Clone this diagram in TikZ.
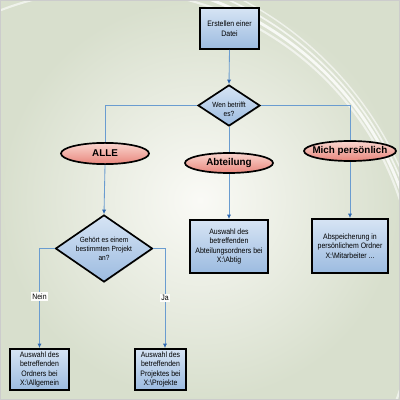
\documentclass[tikz,border=0pt]{standalone}
\usepackage{fontspec}
\setmainfont{Liberation Sans}
\newfontfamily\narrowsans[FakeStretch=0.88]{Liberation Sans}
\usetikzlibrary{shapes.geometric,arrows.meta,shadows,calc}
\definecolor{bgout}{HTML}{D8DFCD}
\definecolor{bgin}{HTML}{FAFAF6}
\definecolor{boxtop}{HTML}{D6E4F4}
\definecolor{boxbot}{HTML}{9CBBE0}
\definecolor{elltop}{HTML}{FAD6CF}
\definecolor{ellbot}{HTML}{E8867C}
\definecolor{linec}{HTML}{6A9CD0}
\definecolor{tipc}{HTML}{2F68B0}
\tikzset{
  procbox/.style={rectangle, draw=black, line width=1.3pt, top color=boxtop, bottom color=boxbot,
    drop shadow={shadow xshift=0.6pt, shadow yshift=-0.6pt, opacity=0.35},
    inner sep=0pt, align=center, font=\narrowsans\fontsize{5.6}{6.7}\selectfont},
  decide/.style={diamond, draw=black, line width=1.2pt, top color=boxtop, bottom color=boxbot,
    inner sep=0pt, drop shadow={shadow xshift=0.6pt, shadow yshift=-0.6pt, opacity=0.35}},
  choice/.style={ellipse, draw=black, line width=1.2pt, top color=elltop, bottom color=ellbot,
    inner sep=0pt},
  dtext/.style={align=center, font=\narrowsans\fontsize{5.3}{6.4}\selectfont},
  etext/.style={font=\bfseries\fontsize{7}{8}\selectfont},
  link/.style={draw=linec, line width=0.6pt},
  conn/.style={link, -{Latex[length=3.2pt,width=3pt,color=tipc]}},
  lbl/.style={fill=white!60!bgin, inner sep=1pt, font=\narrowsans\fontsize{5.6}{6.6}\selectfont},
}
\begin{document}
\begin{tikzpicture}[x=0.025cm,y=-0.025cm]
\useasboundingbox (0,0) rectangle (400,400);
% background
\shade[inner color=bgin, outer color=bgout] (0,0) rectangle (400,400);
\begin{scope}
\clip (0,0) rectangle (400,400);
\draw[white, line width=2pt, opacity=0.8] (100,300) circle (320);
\draw[white, line width=1.2pt, opacity=0.7] (90,305) circle (335);
\draw[white, line width=1.5pt, opacity=0.6] (110,295) circle (305);
\draw[white, line width=1pt, opacity=0.6] (80,310) circle (350);
\end{scope}
\draw[gray!40, line width=0.4pt] (0.5,0.5) rectangle (399.5,399.5);

% nodes
\node[procbox, minimum width=1.475cm, minimum height=1.025cm] (start) at (229.5,28.5) {Erstellen einer\\Datei};
\node[decide, minimum width=1.55cm, minimum height=1.025cm,
  label={[dtext, yshift=-2.8pt]center:Wen betrifft\\es?}] (d1) at (229,105.5) {};
\node[choice, minimum width=2.2cm, minimum height=0.53cm, label={[etext]center:ALLE}] (alle) at (105,153.5) {};
\node[choice, minimum width=2.2cm, minimum height=0.5cm, label={[etext]center:Abteilung}] (abt) at (229,163) {};
\node[choice, minimum width=2.3cm, minimum height=0.5cm, label={[etext]center:Mich persönlich}] (mich) at (350,151) {};
\node[decide, minimum width=2.425cm, minimum height=1.675cm,
  label={[dtext]center:Gehört es einem\\bestimmten Projekt\\an?}] (d2) at (104,248.5) {};
\node[procbox, minimum width=1.95cm, minimum height=1.325cm] (abtbox) at (229,246.5) {Auswahl des\\betreffenden\\Abteilungsordners bei\\X:\textbackslash Abtig};
\node[procbox, minimum width=1.9cm, minimum height=1.35cm] (michbox) at (350,246) {Abspeicherung in\\persönlichem Ordner\\X:\textbackslash Mitarbeiter ...};
\node[procbox, minimum width=1.475cm, minimum height=1.025cm] (allg) at (39.5,369.5) {Auswahl des\\betreffenden\\Ordners bei\\X:\textbackslash Allgemein};
\node[procbox, minimum width=1.275cm, minimum height=1.025cm] (proj) at (160.5,369.5) {Auswahl des\\betreffenden\\Projektes bei\\X:\textbackslash Projekte};
\coordinate (jx) at (165,0);

% connectors
\draw[conn] (start.south) -- (d1.north);
\draw[link] (d1.west) -| (alle.north);
\draw[link] (d1.south) -- (abt.north);
\draw[link] (d1.east) -| (mich.north);
\draw[conn] (alle.south) -- (d2.north);
\draw[conn] (abt.south) -- (abtbox.north);
\draw[conn] (mich.south) -- (michbox.north);
\draw[conn] (d2.west) -| node[lbl, pos=0.74] {Nein} (allg.north);
\draw[conn] (d2.east) -| node[lbl, pos=0.75] {Ja} (proj.north -| jx);
\end{tikzpicture}
\end{document}
